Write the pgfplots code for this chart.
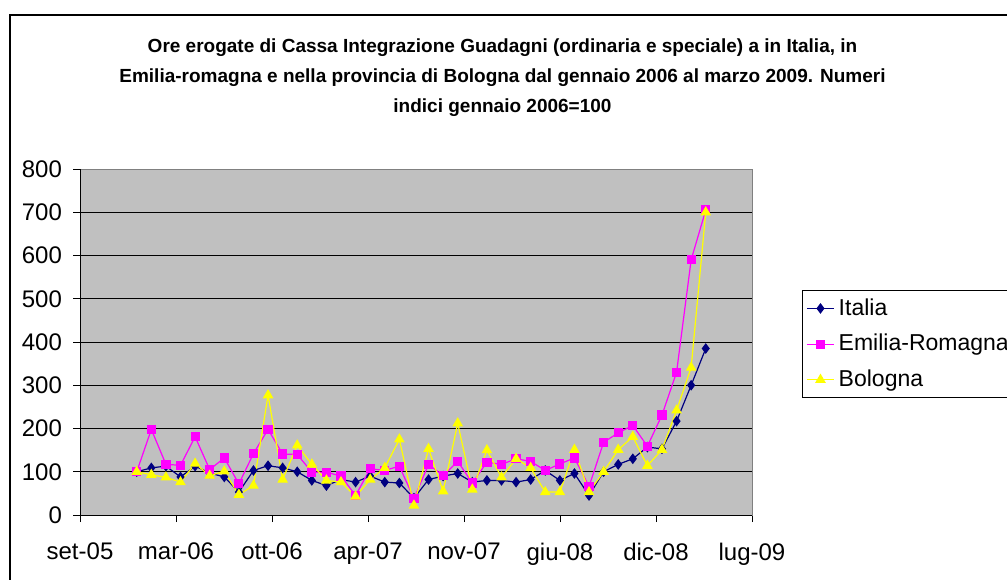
\documentclass[border=0pt]{standalone}
\usepackage{fontspec}
\setmainfont{Liberation Sans}
\usepackage{pgfplots}
\usepackage{pgfplotstable}
\pgfplotsset{compat=1.18}

\definecolor{itnavy}{HTML}{000080}
\definecolor{ermag}{HTML}{FF00FF}
\definecolor{boyel}{HTML}{FFFF00}
\definecolor{plotgray}{HTML}{C0C0C0}
\definecolor{bordergray}{HTML}{808080}

% month index: 0 = gen-06
\pgfplotstableread{
i   It   ER   Bo
0   100  100  100
1   109  198   93
2   113  117   87
3    88  115   76
4   113  181  119
5    97  105   91
6    88  132  101
7    53   72   47
8   103  142   68
9   114  198  277
10  109  141   82
11  100  140  161
12   80   99  117
13   68   99   80
14   82   90   76
15   76   45   43
16   90  107   82
17   76  103  109
18   74  113  175
19   39   38   22
20   82  117  153
21   90   91   55
22   96  124  212
23   76   74   59
24   80  122  150
25   80  117   87
26   76  130  130
27   82  124  109
28  103  103   53
29   80  118   53
30   96  132  151
31   45   66   53
32  100  168  100
33  117  190  151
34  130  207  181
35  157  159  114
36  153  231  151
37  217  330  242
38  300  590  341
39  385  705  700
}\datatable

\begin{document}
\begin{tikzpicture}
\clip (0,0) rectangle (503.5pt,289.5pt);
\fill[white] (0,0) rectangle (503.5pt,289.5pt);
\draw[black,line width=0.6pt] (5pt,-2pt) -- (5pt,282pt) -- (520pt,282pt);

\node[align=center,font=\bfseries\fontsize{9.5}{15}\selectfont] at (251.25pt,250.5pt)
  {Ore erogate di Cassa Integrazione Guadagni (ordinaria e speciale) a in Italia, in\\
   Emilia-romagna e nella provincia di Bologna dal gennaio 2006 al marzo 2009. Numeri\\
   indici gennaio 2006=100};

\begin{axis}[
    at={(40pt,32pt)}, anchor=south west,
    scale only axis, width=336pt, height=173pt,
    xmin=-3.89, xmax=42.17, ymin=0, ymax=800,
    xtick={-3.89,2.69,9.27,15.85,22.43,29.01,35.59,42.17},
    xticklabels={set-05,mar-06,ott-06,apr-07,nov-07,giu-08,dic-08,lug-09},
    ytick={0,100,...,800},
    xtick pos=bottom, ytick pos=left,
    tick align=outside, major tick length=3.5pt,
    tick style={black,line width=0.5pt},
    ymajorgrids, grid style={black,line width=0.5pt},
    axis line style={bordergray,line width=0.5pt},
    axis background/.style={fill=plotgray},
    /pgf/number format/assume math mode=true,
    ticklabel style={font=\fontsize{12}{14}\selectfont},
    xticklabel style={yshift=-7pt},
    yticklabel style={xshift=-2pt},
    legend style={at={(1.074,0.650)}, anchor=north west, draw=black, fill=white,
        font=\fontsize{11.5}{13.5}\selectfont, row sep=4pt, inner sep=2pt,
        line width=0.5pt},
    legend cell align=left,
    legend image code/.code={\draw[mark repeat=2,mark phase=2] plot coordinates {(0cm,0cm) (0.24cm,0cm) (0.48cm,0cm)};},
]
\addplot[itnavy,line width=0.6pt,mark=diamond*,mark size=2.2pt,mark options={fill=itnavy}]
  table[x=i,y=It] {\datatable};
\addlegendentry{Italia}
\addplot[ermag,line width=0.6pt,mark=square*,mark size=2pt,mark options={fill=ermag}]
  table[x=i,y=ER] {\datatable};
\addlegendentry{Emilia-Romagna}
\addplot[boyel,line width=0.6pt,mark=triangle*,mark size=2.5pt,mark options={fill=boyel}]
  table[x=i,y=Bo] {\datatable};
\addlegendentry{Bologna}
\draw[black,line width=0.5pt] (rel axis cs:0,1) -- (rel axis cs:0,0) -- (rel axis cs:1,0);
\end{axis}
\end{tikzpicture}
\end{document}
